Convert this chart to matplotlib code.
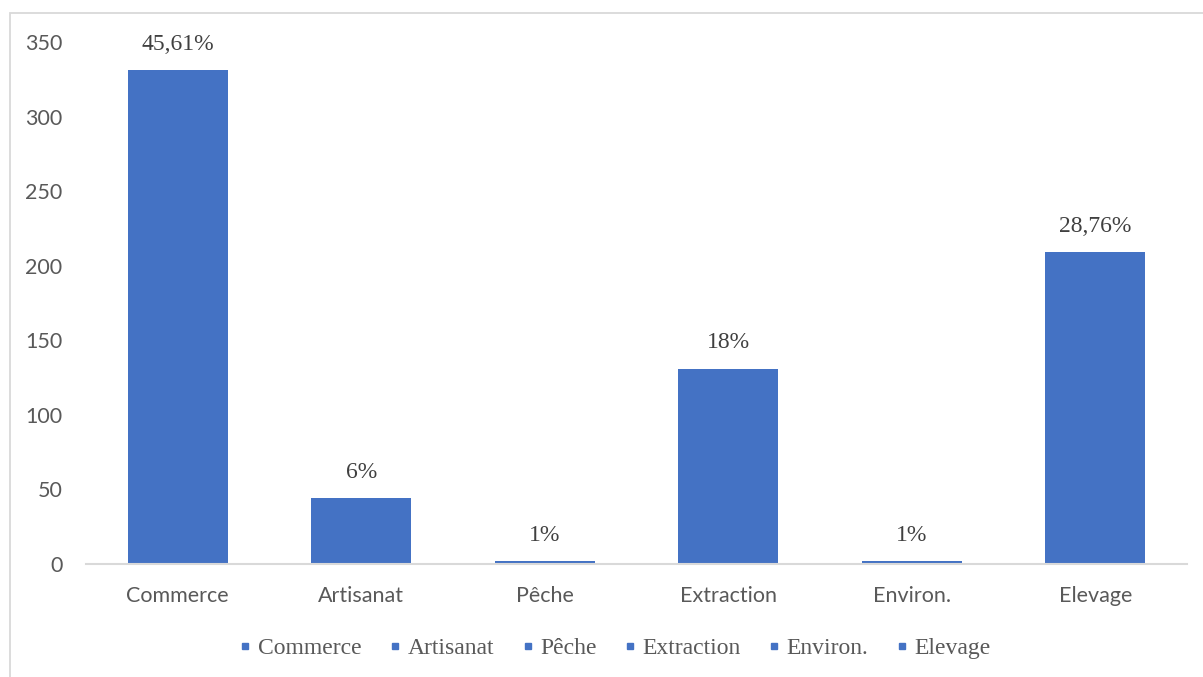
import matplotlib
matplotlib.use("Agg")
from matplotlib import pyplot as plt
from matplotlib.lines import Line2D
from matplotlib.patches import Rectangle

# Données
categories = ["Commerce", "Artisanat", "Pêche", "Extraction", "Environ.", "Elevage"]
valeurs = [331, 44, 2, 131, 2, 209]
etiquettes = ["45,61%", "6%", "1%", "18%", "1%", "28,76%"]
yticks = [0, 50, 100, 150, 200, 250, 300, 350]

BLEU = "#4472C4"
GRIS = "#595959"
LIGNE = "#D9D9D9"
W, H = 1203, 677

fig = plt.figure(figsize=(W / 100, H / 100), dpi=100)

# cadre du graphique (bords gauche et haut visibles)
fig.patches.append(Rectangle((10 / W, -0.1), 1.2, 1.1 - 12.5 / H, transform=fig.transFigure,
                             fill=False, edgecolor=LIGNE, lw=1.3))

ax = fig.add_axes([86 / W, 1 - 564 / H, (1187 - 86) / W, (564 - 42) / H])
x = range(len(categories))
bars = ax.bar(x, valeurs, width=0.545, color=BLEU)

for b, lab in zip(bars, etiquettes):
    ax.annotate(lab, (b.get_x() + b.get_width() / 2, b.get_height()),
                xytext=(0, 11), textcoords="offset points", ha="center", va="bottom",
                family="Liberation Serif", fontsize=17, color="#404040")

ax.set_xlim(-0.5, len(categories) - 0.5)
ax.set_ylim(0, 350)
ax.set_yticks(yticks)
ax.set_xticks(list(x))
ax.set_xticklabels(categories)
for s in ["top", "right", "left"]:
    ax.spines[s].set_visible(False)
ax.spines["bottom"].set_color(LIGNE)
ax.spines["bottom"].set_linewidth(1.5)
ax.tick_params(axis="both", length=0, colors=GRIS, labelsize=15.5)
ax.tick_params(axis="y", pad=17)
ax.tick_params(axis="x", pad=16)
for t in ax.get_xticklabels() + ax.get_yticklabels():
    t.set_family("Lato")

# Légende
handles = [Line2D([], [], marker="s", ls="none", color=BLEU, markersize=5) for _ in categories]
leg = fig.legend(handles, categories, loc="center", bbox_to_anchor=(616 / W, 1 - 648 / H),
                 ncol=6, frameon=False, handlelength=0.35, handletextpad=0.35,
                 columnspacing=1.25, prop={"family": "Liberation Serif", "size": 17})
for t in leg.get_texts():
    t.set_color(GRIS)

fig.savefig("out.png", dpi=100)
